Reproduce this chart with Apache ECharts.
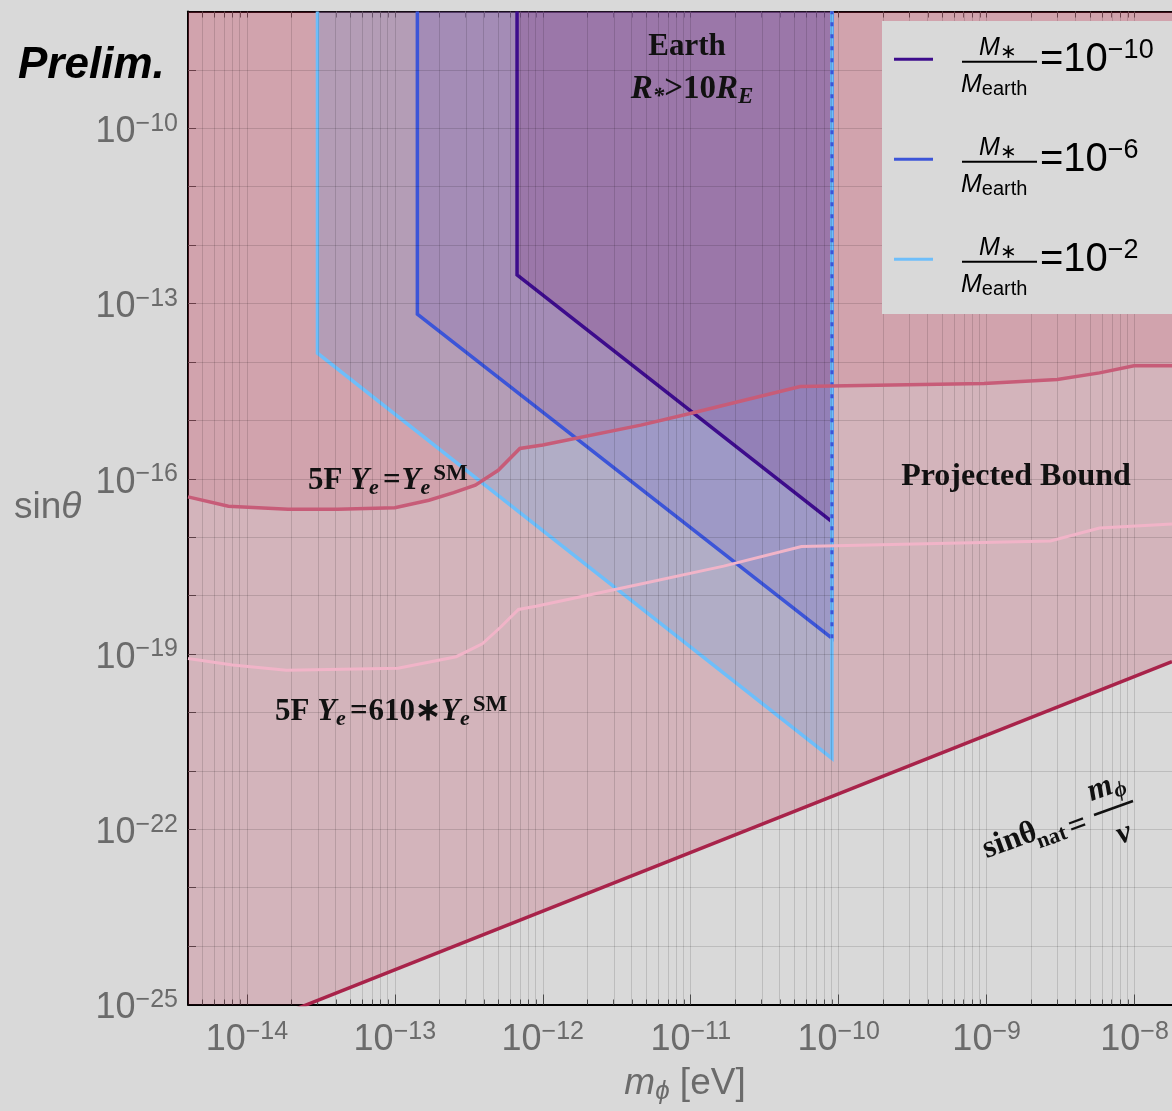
<!DOCTYPE html>
<html>
<head>
<meta charset="utf-8">
<script src="https://cdn.jsdelivr.net/npm/echarts@6/dist/echarts.min.js"></script>
<style>
  html, body { margin: 0; padding: 0; background: #d9d9d9; }
  #chart { width: 1172px; height: 1111px; }
</style>
</head>
<body>
<div id="chart"></div>
<script>
// ---- axis extents (m_phi in eV, sin(theta)) ----
const xRange = [4e-15, 1.79e-8];
const yRange = [1e-25, 1e-8];
const xTickExps = [-14, -13, -12, -11, -10, -9, -8];
const yTickExps = [-25, -22, -19, -16, -13, -10];

// ---- naturalness line sin(theta)_nat = m_phi / v ----
const naturalLine = [[4e-15, 1.55e-26], [1.79e-8, 7.4e-20]];

// ---- fifth-force bound, Y_e = Y_e^SM ----
const bound5F = [
  [4e-15, 4.9e-17], [7.5e-15, 3.4e-17], [1.9e-14, 3.0e-17], [4.1e-14, 3.0e-17],
  [1.0e-13, 3.2e-17], [1.7e-13, 4.3e-17], [2.5e-13, 5.8e-17], [3.5e-13, 7.8e-17],
  [5.0e-13, 1.4e-16], [7.0e-13, 3.3e-16], [1.0e-12, 3.8e-16], [4.6e-12, 8.3e-16],
  [1.04e-11, 1.35e-15], [5.5e-11, 3.8e-15], [9.6e-10, 4.3e-15], [3.0e-9, 5.0e-15],
  [5.8e-9, 6.5e-15], [9.9e-9, 8.6e-15], [1.79e-8, 8.6e-15]
];

// ---- fifth-force bound, Y_e = 610 * Y_e^SM ----
const bound5F610 = [
  [4e-15, 8.4e-20], [8.0e-15, 6.5e-20], [1.85e-14, 5.3e-20], [1.05e-13, 5.7e-20],
  [2.6e-13, 9.0e-20], [3.9e-13, 1.5e-19], [5.2e-13, 2.9e-19], [6.85e-13, 5.8e-19],
  [9.0e-13, 6.6e-19], [4.2e-12, 1.5e-18], [1.67e-11, 3.2e-18], [5.6e-11, 6.9e-18],
  [2.7e-9, 8.6e-18], [5.8e-9, 1.44e-17], [1.79e-8, 1.68e-17]
];

// ---- Earth-sized star regions (R_* > 10 R_E) ----
const earthM10 = [[6.7e-13, 1e-8], [6.7e-13, 3.1e-13], [9e-11, 1.84e-17], [9e-11, 1e-8]];
const earthM6  = [[1.42e-13, 1e-8], [1.42e-13, 6.6e-14], [9e-11, 1.87e-19], [9e-11, 1e-8]];
const earthM2  = [[3.0e-14, 1e-8], [3.0e-14, 1.42e-14], [9e-11, 1.64e-21], [9e-11, 1e-8]];

const legendLabels = ['−10', '−6', '−2'];
const legendColors = ['#3d0c8c', '#3c55d8', '#6ebefa'];

const SANS = '"Liberation Sans", Arial, sans-serif';
const SERIF = '"Liberation Serif", "Times New Roman", serif';
const TICK_COLOR = '#6b6b6b';

// both axes are drawn in decades: positions are log10 of the physical values
const lg = Math.log10;
const toLog = pts => pts.map(p => [lg(p[0]), lg(p[1])]);
const xLo = lg(xRange[0]), xHi = lg(xRange[1]);
const yLo = lg(yRange[0]), yHi = lg(yRange[1]);

// grid lines: every decade on both axes, plus 2..9 subdivisions on x
const xMinor = [], xMajor = [];
for (let e = -15; e <= -8; e++) {
  for (let k = 1; k <= 9; k++) {
    const p = lg(k) + e;
    if (p > xLo + 1e-3 && p < xHi) (k === 1 ? xMajor : xMinor).push(p);
  }
}
const yDecades = [];
for (let e = -24; e <= -9; e++) yDecades.push(e);
const gridLineData = xMajor.concat(xMinor).map(v => ({ xAxis: v }))
  .concat(yDecades.map(v => ({ yAxis: v })));

const expLabel = v => '{b|10}{s|−' + Math.round(-v) + '}';
const tickRich = {
  b: { fontSize: 36, lineHeight: 42, fontFamily: SANS, color: TICK_COLOR },
  s: { fontSize: 25, lineHeight: 20, verticalAlign: 'top', fontFamily: SANS, color: TICK_COLOR }
};

function areaSeries(name, data, fill, z) {
  return {
    name: name, type: 'line', data: toLog(data), showSymbol: false, silent: true, z: z,
    lineStyle: { width: 0, opacity: 0 },
    areaStyle: { origin: 'end', color: fill, opacity: 1 }
  };
}
function lineSeries(name, data, color, width, z, dash) {
  return {
    name: name, type: 'line', data: toLog(data), showSymbol: false, silent: true, z: z,
    lineStyle: { color: color, width: width, type: dash || 'solid', cap: 'butt', join: 'miter' }
  };
}

const series = [
  Object.assign(areaSeries('natural-fill', naturalLine, 'rgba(190,35,72,0.20)', 1), {
    markLine: {
      silent: true, symbol: ['none', 'none'], label: { show: false }, animation: false,
      lineStyle: { type: 'solid', color: 'rgba(0,0,0,0.13)', width: 1 },
      data: gridLineData
    }
  }),
  areaSeries('earth-m2-fill', earthM2, 'rgba(100,160,225,0.30)', 2),
  areaSeries('earth-m6-fill', earthM6, 'rgba(90,80,200,0.22)', 2),
  areaSeries('earth-m10-fill', earthM10, 'rgba(110,40,130,0.22)', 2),
  areaSeries('5F-fill', bound5F, 'rgba(200,67,95,0.15)', 3),
  lineSeries('earth-m10', earthM10, legendColors[0], 3.5, 4),
  lineSeries('earth-m6', earthM6, legendColors[1], 3.5, 4),
  lineSeries('earth-m2', earthM2, legendColors[2], 3.5, 4),
  lineSeries('earth-m6-edge', earthM6.slice(2), legendColors[1], 3, 5, [4, 8]),
  lineSeries('5F', bound5F, '#c75c78', 3.5, 5),
  lineSeries('5F-610', bound5F610, '#f1b4c8', 3, 5),
  lineSeries('natural', naturalLine, '#a8234a', 3.5, 5)
];

// ---- text overlays ----
const TOP = 100;
const graphics = [];
graphics.push({
  type: 'text', x: 18, y: 66, z: TOP,
  style: { text: 'Prelim.', font: 'italic bold 44px ' + SANS, fill: '#000', verticalAlign: 'middle' }
});
graphics.push({
  type: 'text', x: 14, y: 508, z: TOP,
  style: {
    text: 'sin{i|θ}', fill: TICK_COLOR, font: '37px ' + SANS, verticalAlign: 'middle',
    rich: { i: { fontStyle: 'italic', fontSize: 37, fontFamily: SANS, fill: TICK_COLOR } }
  }
});
graphics.push({
  type: 'text', x: 685, y: 1084, z: TOP,
  style: {
    text: '{i|m}{sub|ϕ}{r| [eV]}', align: 'center', verticalAlign: 'middle',
    rich: {
      i: { fontStyle: 'italic', fontSize: 37, lineHeight: 42, fontFamily: SANS, fill: TICK_COLOR },
      sub: { fontStyle: 'italic', fontSize: 26, lineHeight: 22, verticalAlign: 'bottom', fontFamily: SANS, fill: TICK_COLOR },
      r: { fontSize: 37, lineHeight: 42, fontFamily: SANS, fill: TICK_COLOR }
    }
  }
});

const serifRich = function (size, small) {
  const s = small || Math.round(size * 0.7);
  return {
    b: { fontWeight: 'bold', fontSize: size, lineHeight: size + 6, fontFamily: SERIF, fill: '#111' },
    i: { fontWeight: 'bold', fontStyle: 'italic', fontSize: size, lineHeight: size + 6, fontFamily: SERIF, fill: '#111' },
    eq: { fontWeight: 'bold', fontSize: size, lineHeight: size + 6, padding: [0, 1, 0, 4], fontFamily: SERIF, fill: '#111' },
    sub: { fontWeight: 'bold', fontStyle: 'italic', fontSize: s, lineHeight: 14, verticalAlign: 'bottom', fontFamily: SERIF, fill: '#111' },
    sup: { fontWeight: 'bold', fontSize: s + 1, lineHeight: 12, verticalAlign: 'top', padding: [0, 0, 0, 3], fontFamily: SERIF, fill: '#111' },
    n: { fontWeight: 'bold', fontSize: s, lineHeight: 14, fontFamily: SERIF, fill: '#111' }
  };
};

graphics.push({
  type: 'text', x: 687, y: 47, z: TOP,
  style: { text: '{b|Earth}', align: 'center', verticalAlign: 'middle', rich: serifRich(31) }
});
graphics.push({
  type: 'text', x: 692, y: 89, z: TOP,
  style: { text: '{i|R}{sub|*}{b|>10}{i|R}{sub|E}', align: 'center', verticalAlign: 'middle', rich: serifRich(33, 23) }
});
graphics.push({
  type: 'text', x: 308, y: 481, z: TOP,
  style: { text: '{b|5F }{i|Y}{sub|e}{eq|=}{i|Y}{sub|e}{sup|SM}', verticalAlign: 'middle', rich: serifRich(31, 22) }
});
graphics.push({
  type: 'text', x: 275, y: 712, z: TOP,
  style: { text: '{b|5F }{i|Y}{sub|e}{eq|=}{b|610∗}{i|Y}{sub|e}{sup|SM}', verticalAlign: 'middle', rich: serifRich(31, 22) }
});
graphics.push({
  type: 'text', x: 1016, y: 477, z: TOP,
  style: { text: '{b|Projected Bound}', align: 'center', verticalAlign: 'middle', rich: serifRich(32) }
});

// rotated label along the naturalness line
const natAngle = 0.349;
const natRich = serifRich(32, 22);
function natText(text, x, y) {
  return {
    type: 'text', x: x, y: y, rotation: natAngle, z: TOP,
    style: { text: text, align: 'center', verticalAlign: 'middle', rich: natRich }
  };
}
graphics.push(
  natText('{b|sinθ}', 1010, 841),
  natText('{n|nat}', 1052, 838),
  natText('{b|=}', 1078, 826),
  natText('{i|m}{sub|ϕ}', 1106, 787),
  { type: 'line', z: TOP, shape: { x1: 1094, y1: 815, x2: 1133, y2: 801 }, style: { stroke: '#111', lineWidth: 2.5 } },
  natText('{i|v}', 1124, 834)
);

// legend
const legendChildren = [
  { type: 'rect', z: TOP, shape: { x: 882, y: 21, width: 300, height: 293 }, style: { fill: '#d9d9d9' } }
];
const legRich = {
  i: { fontStyle: 'italic', fontSize: 25, lineHeight: 28, fontFamily: SANS, fill: '#000' },
  sub: { fontSize: 20, lineHeight: 18, verticalAlign: 'bottom', fontFamily: SANS, fill: '#000' },
  b: { fontSize: 40, lineHeight: 46, fontFamily: SANS, fill: '#000' },
  sup: { fontSize: 27, lineHeight: 22, verticalAlign: 'top', fontFamily: SANS, fill: '#000' }
};
legendLabels.forEach(function (lab, k) {
  const y0 = 59.3 + 100 * k;
  legendChildren.push(
    { type: 'line', z: TOP + 1, shape: { x1: 894, y1: y0, x2: 933, y2: y0 }, style: { stroke: legendColors[k], lineWidth: 3 } },
    { type: 'text', z: TOP + 1, x: 998, y: y0 - 11, style: { text: '{i|M}{sub|∗}', align: 'center', verticalAlign: 'middle', rich: legRich } },
    { type: 'line', z: TOP + 1, shape: { x1: 962, y1: y0 + 2.5, x2: 1037, y2: y0 + 2.5 }, style: { stroke: '#000', lineWidth: 2 } },
    { type: 'text', z: TOP + 1, x: 961, y: y0 + 26, style: { text: '{i|M}{sub|earth}', verticalAlign: 'middle', rich: legRich } },
    { type: 'text', z: TOP + 1, x: 1040, y: y0 + 1, style: { text: '{b|=10}{sup|' + lab + '}', verticalAlign: 'middle', rich: legRich } }
  );
});
graphics.push.apply(graphics, legendChildren);

const frameLine = { show: true, onZero: false, lineStyle: { color: '#000', width: 2 } };
const tickStyle = { color: '#555', width: 1 };

const chart = echarts.init(document.getElementById('chart'), null, { renderer: 'canvas' });
chart.setOption({
  animation: false,
  backgroundColor: '#d9d9d9',
  grid: { left: 188, top: 11.5, width: 984, height: 993, containLabel: false },
  xAxis: [{
    type: 'value', min: xLo, max: xHi, position: 'bottom',
    axisLine: frameLine,
    axisTick: { show: true, inside: true, length: 10, customValues: xMajor, lineStyle: tickStyle },
    axisLabel: { margin: 15, customValues: xTickExps, formatter: expLabel, rich: tickRich },
    splitLine: { show: false }
  }, {
    type: 'value', min: xLo, max: xHi, position: 'bottom',
    axisLine: { show: false },
    axisTick: { show: true, inside: true, length: 5, customValues: xMinor, lineStyle: tickStyle },
    axisLabel: { show: false }, splitLine: { show: false }
  }, {
    type: 'value', min: xLo, max: xHi, position: 'top',
    axisLine: frameLine,
    axisTick: { show: true, inside: true, length: 6, customValues: xMajor.concat(xMinor), lineStyle: tickStyle },
    axisLabel: { show: false }, splitLine: { show: false }
  }],
  yAxis: [{
    type: 'value', min: yLo, max: yHi, position: 'left',
    axisLine: frameLine,
    axisTick: { show: true, inside: true, length: 8, customValues: yDecades, lineStyle: tickStyle },
    axisLabel: { margin: 10, padding: [8, 0, 0, 0], customValues: yTickExps, formatter: expLabel, rich: tickRich },
    splitLine: { show: false }
  }],
  series: series,
  graphic: graphics
});
</script>
</body>
</html>
